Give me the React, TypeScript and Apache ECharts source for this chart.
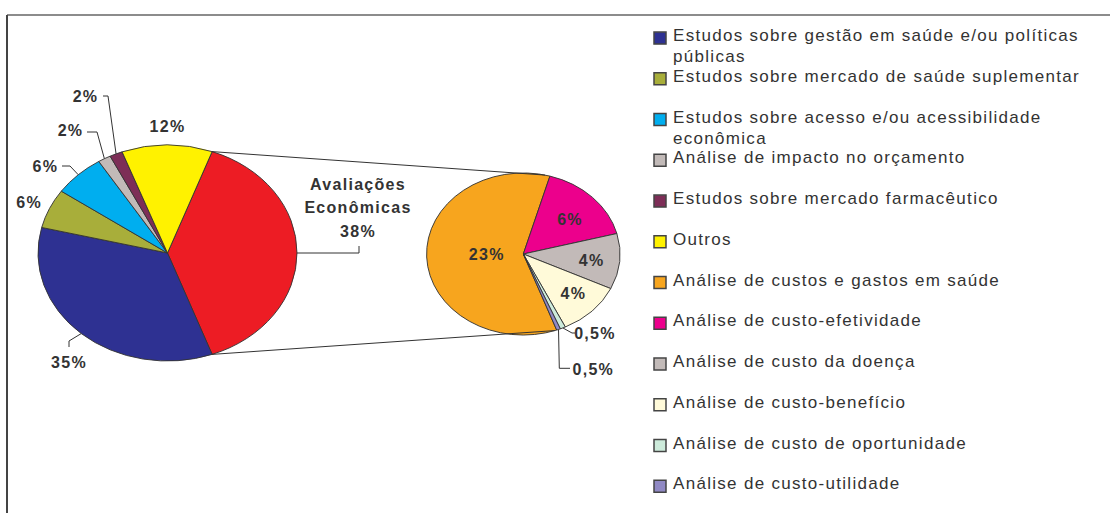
import React, { useEffect, useRef } from "react";
import * as echarts from "echarts";

// ---------- DATA ----------
const secondaryCategories = [
  "Análise de custos e gastos em saúde",
  "Análise de custo-efetividade",
  "Análise de custo da doença",
  "Análise de custo-benefício",
  "Análise de custo de oportunidade",
  "Análise de custo-utilidade",
];
const secondaryValues = [23.3, 6.4, 4.3, 4.2, 0.35, 0.25];
const secondaryLabels = ["23%", "6%", "4%", "4%", "0,5%", "0,5%"];

const mainCategories = [
  "Avaliações Econômicas",
  "Estudos sobre gestão em saúde e/ou políticas públicas",
  "Estudos sobre mercado de saúde suplementar",
  "Estudos sobre acesso e/ou acessibilidade econômica",
  "Análise de impacto no orçamento",
  "Estudos sobre mercado farmacêutico",
  "Outros",
];
const mainOtherValues = [34.4, 5.9, 6.4, 1.6, 1.6, 11.3];
const mainLabels = ["Avaliações\nEconômicas\n38%", "35%", "6%", "6%", "2%", "2%", "12%"];

const legendNames = [...mainCategories.slice(1), ...secondaryCategories];
const legendBreaks: Record<string, string> = {
  "Estudos sobre gestão em saúde e/ou políticas públicas":
    "Estudos sobre gestão em saúde e/ou políticas\npúblicas",
  "Estudos sobre acesso e/ou acessibilidade econômica":
    "Estudos sobre acesso e/ou acessibilidade\neconômica",
};

// ---------- STYLES / LAYOUT ----------
const mainColors = ["#ED1C24", "#2E3192", "#A8AE3A", "#00AEEF", "#C2BAB8", "#7D2E57", "#FFF200"];
const secondaryColors = ["#F7A51E", "#EC008C", "#C2BAB8", "#FFFAD9", "#CDEBDB", "#9089C4"];
const legendColors = [...mainColors.slice(1), ...secondaryColors];

const MAIN = { cx: 167.5, cy: 253, rx: 129.5, ry: 108 };
const SEC = { cx: 523.3, cy: 254, rx: 96.7, ry: 81 };
const SEC_START = 69.8;
const CONNECT_TOP = -77;
const CONNECT_BOTTOM = 71;

const TEXT = "#333333";
const LABEL_FONT = 'bold 16px "Liberation Sans", Arial, sans-serif';
const LEGEND_FONT = '17px "Liberation Sans", Arial, sans-serif';

// label layout (offsets from each pie's center); leader = [anchor, elbow] then slice edge
type LabelLayout = { pos: [number, number]; leader?: [[number, number], [number, number]] };
const mainLabelLayout: LabelLayout[] = [
  { pos: [190.5, -45.3], leader: [[191.5, -7], [191.5, 0]] },
  { pos: [-98.5, 109.2], leader: [[-98.5, 94], [-98.5, 88]] },
  { pos: [-138.3, -51] },
  { pos: [-122.2, -87], leader: [[-105.5, -87], [-97.5, -87]] },
  { pos: [-97, -123], leader: [[-80.5, -121], [-70.5, -121]] },
  { pos: [-82, -156.8], leader: [[-64.5, -157], [-59.5, -157]] },
  { pos: [0, -126.5] },
];
const secondaryLabelLayout: LabelLayout[] = [
  { pos: [-36.6, 0.3] },
  { pos: [46.7, -34.7] },
  { pos: [68.4, 6.7] },
  { pos: [50, 39.3] },
  { pos: [71.7, 79.3], leader: [[51.7, 79], [48.7, 79]] },
  { pos: [70, 115.3], leader: [[46.7, 114.3], [36, 114.3]] },
];

// ---------- GEOMETRY HELPERS ----------
const rad = (d: number) => (d * Math.PI) / 180;
const sum = (a: number[]) => a.reduce((s, v) => s + v, 0);

function arcsOf(values: number[], startDeg: number) {
  const total = sum(values);
  let cur = startDeg;
  return values.map((v) => {
    const span = (v / total) * 360;
    const a = { start: cur, end: cur + span, mid: cur + span / 2 };
    cur += span;
    return a;
  });
}
const edge = (g: typeof MAIN, deg: number): [number, number] => [
  g.cx + g.rx * Math.cos(rad(deg)),
  g.cy + g.ry * Math.sin(rad(deg)),
];

const mainValues = [sum(secondaryValues), ...mainOtherValues];
const mainTotal = sum(mainValues);
const mainArcs = arcsOf(mainValues, -((mainValues[0] / mainTotal) * 360) / 2);
const secArcs = arcsOf(secondaryValues, SEC_START);

function makeRender(
  g: typeof MAIN,
  arcs: { start: number; end: number; mid: number }[],
  colors: string[],
  labels: string[],
  layout: LabelLayout[],
  withConnectors: boolean
) {
  return (params: any) => {
    const i = params.dataIndex;
    const a = arcs[i];
    const children: any[] = [];
    children.push({
      type: "sector",
      x: g.cx,
      y: g.cy,
      scaleY: g.ry / g.rx,
      shape: { cx: 0, cy: 0, r: g.rx, r0: 0, startAngle: rad(a.start), endAngle: rad(a.end), clockwise: true },
      style: { fill: colors[i], stroke: "#333", lineWidth: 1, strokeNoScale: true },
    });
    const L = layout[i];
    if (L.leader) {
      const pts = [
        [g.cx + L.leader[0][0], g.cy + L.leader[0][1]],
        [g.cx + L.leader[1][0], g.cy + L.leader[1][1]],
        edge(g, a.mid),
      ];
      children.push({
        type: "polyline",
        z2: 90,
        shape: { points: pts },
        style: { stroke: "#333", lineWidth: 1, fill: "none" },
      });
    }
    children.push({
      type: "text",
      z2: 100,
      x: g.cx + L.pos[0],
      y: g.cy + L.pos[1],
      style: {
        text: labels[i],
        font: LABEL_FONT,
        fill: TEXT,
        align: "center",
        verticalAlign: "middle",
        lineHeight: 23.5,
      },
    });
    if (withConnectors && i === 0) {
      const p1 = edge(g, a.start);
      const p2 = edge(SEC, CONNECT_TOP);
      const p3 = edge(g, a.end);
      const p4 = edge(SEC, CONNECT_BOTTOM);
      children.push({ type: "line", z2: 80, shape: { x1: p1[0], y1: p1[1], x2: p2[0], y2: p2[1] }, style: { stroke: "#333", lineWidth: 1 } });
      children.push({ type: "line", z2: 80, shape: { x1: p3[0], y1: p3[1], x2: p4[0], y2: p4[1] }, style: { stroke: "#333", lineWidth: 1 } });
    }
    return { type: "group", children };
  };
}

// ---------- LEGEND (graphic) ----------
const LEG_X = 654;
const LEG_TEXT_X = 673;
const LEG_Y0 = 35.7;
const LEG_STEP = 40.75;
const legendGraphics: any[] = legendNames.map((name, i) => {
  const cy = LEG_Y0 + LEG_STEP * i;
  return {
    type: "group",
    children: [
      {
        type: "rect",
        shape: { x: LEG_X, y: cy - 3.6, width: 12, height: 12 },
        style: { fill: legendColors[i], stroke: "#444", lineWidth: 1.5 },
      },
      {
        type: "text",
        x: LEG_TEXT_X,
        y: cy - 10.5,
        style: {
          text: legendBreaks[name] ?? name,
          font: LEGEND_FONT,
          fill: TEXT,
          align: "left",
          verticalAlign: "top",
          lineHeight: 21,
        },
      },
    ],
  };
});

export default function App() {
  const ref = useRef<HTMLDivElement>(null);
  useEffect(() => {
    if (!ref.current) return;
    const chart = echarts.init(ref.current, undefined, { renderer: "svg" });
    chart.setOption({
      animation: false,
      backgroundColor: "#ffffff",
      series: [
        {
          type: "custom",
          name: "Principal",
          coordinateSystem: "none",
          silent: true,
          data: mainValues.map((v, i) => ({ name: mainCategories[i], value: v })),
          renderItem: makeRender(MAIN, mainArcs, mainColors, mainLabels, mainLabelLayout, true),
        },
        {
          type: "custom",
          name: "Avaliações Econômicas",
          coordinateSystem: "none",
          silent: true,
          data: secondaryValues.map((v, i) => ({ name: secondaryCategories[i], value: v })),
          renderItem: makeRender(SEC, secArcs, secondaryColors, secondaryLabels, secondaryLabelLayout, false),
        },
      ],
      graphic: [
        { type: "line", shape: { x1: 7, y1: 15, x2: 1112, y2: 15 }, style: { stroke: "#666", lineWidth: 1.5 } },
        { type: "line", shape: { x1: 7, y1: 15, x2: 7, y2: 515 }, style: { stroke: "#444", lineWidth: 2 } },
        ...legendGraphics,
      ],
    });
    return () => chart.dispose();
  }, []);
  return (
    <>
      <style>{`#chartbox svg text { letter-spacing: 1.3px; }`}</style>
      <div
        id="chartbox"
        ref={ref}
        style={{ position: "fixed", left: 0, top: 0, width: 1110, height: 513, background: "#fff" }}
      />
    </>
  );
}
